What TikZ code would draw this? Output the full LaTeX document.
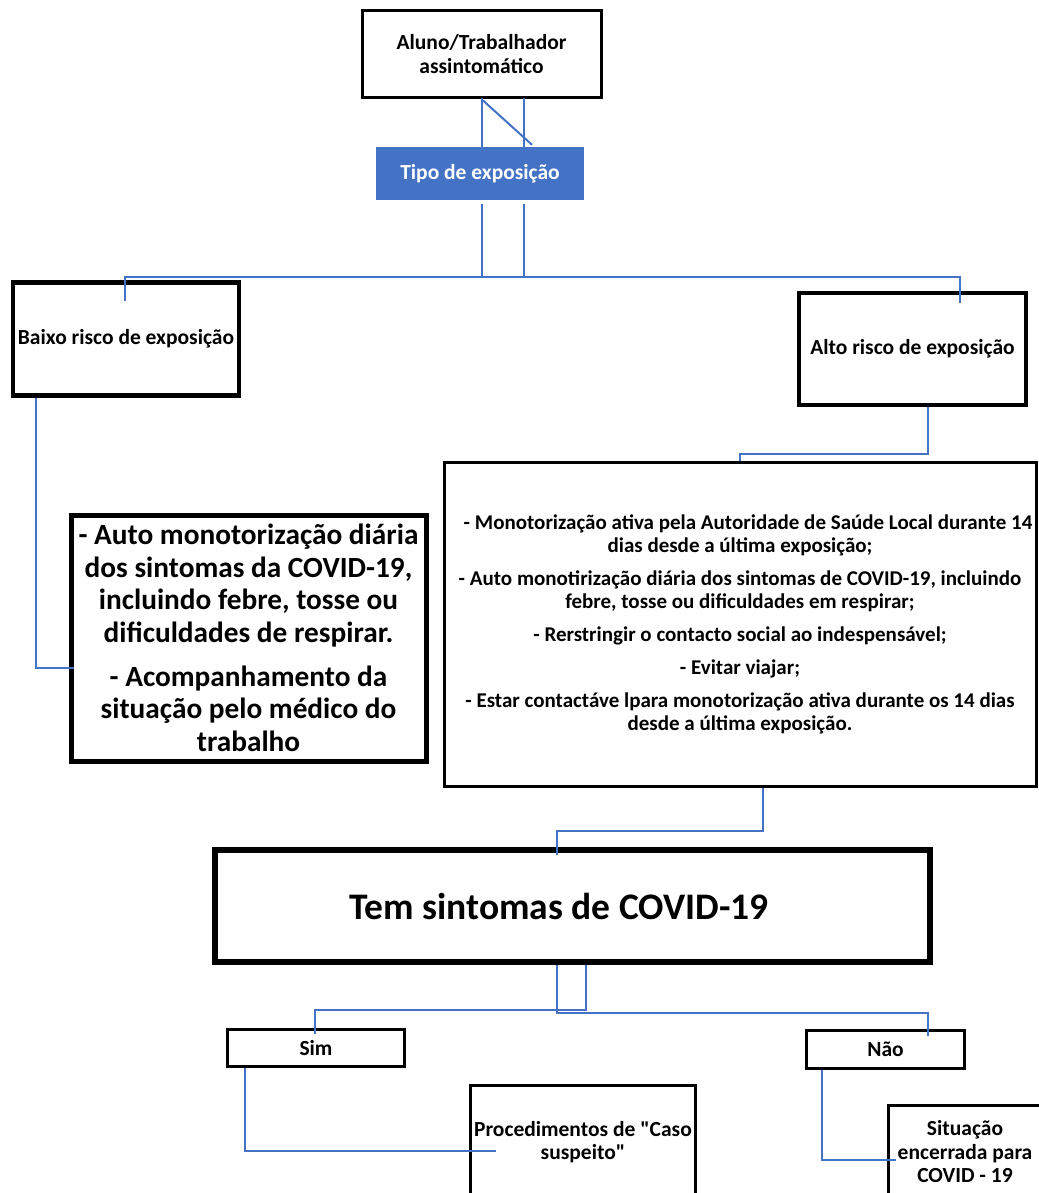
\documentclass[tikz,border=0pt]{standalone}
\usepackage{fontspec}
\setmainfont{Carlito}
\definecolor{conblue}{HTML}{4472C4}
\begin{document}
\begin{tikzpicture}[x=1pt,y=-1pt,
  box/.style={draw=black,fill=white,rectangle,inner sep=0pt,align=center,font=\bfseries\fontsize{21.5}{24}\selectfont},
  conn/.style={draw=conblue,line width=2pt}]
\useasboundingbox (0,0) rectangle (1038,1193);
% boxes
\node[box,line width=3pt,minimum width=239pt,minimum height=87pt] (aluno) at (481.5,54.5) {Aluno/Trabalhador\\assintomático};
\node[box,draw=none,fill=conblue,text=white,minimum width=208pt,minimum height=53pt] (tipo) at (480,173.5) {Tipo de exposição};
\node[box,line width=4.5pt,minimum width=226pt,minimum height=113pt] (baixo) at (126,339) {Baixo risco de exposição};
\node[box,line width=3.5pt,minimum width=227pt,minimum height=112pt] (alto) at (912.5,349) {Alto risco de exposição};
\node[box,line width=5pt,minimum width=355pt,minimum height=246pt,font=\bfseries\fontsize{29.3}{32.5}\selectfont] (auto) at (248.5,638)
  {- Auto monotorização diária\\dos sintomas da COVID-19,\\incluindo febre, tosse ou\\dificuldades de respirar.\\[11.5pt]- Acompanhamento da\\situação pelo médico do\\trabalho};
\node[box,line width=3pt,minimum width=592pt,minimum height=324pt,font=\bfseries\fontsize{21}{23}\selectfont] (acts) at (740,624)
  {\hspace*{16pt}- Monotorização ativa pela Autoridade de Saúde Local durante 14\\dias desde a última exposição;\\[10pt]- Auto monotirização diária dos sintomas de COVID-19, incluindo\\febre, tosse ou dificuldades em respirar;\\[10pt]- Rerstringir o contacto social ao indespensável;\\[10pt]- Evitar viajar;\\[10pt]- Estar contactáve lpara monotorização ativa durante os 14 dias\\desde a última exposição.};
\node[box,line width=6pt,minimum width=715pt,minimum height=112pt,font=\bfseries\fontsize{37.5}{42}\selectfont] (tem) at (572,906) {\hspace*{-26pt}Tem sintomas de COVID-19};
\node[box,line width=3pt,minimum width=177pt,minimum height=37pt] (sim) at (316,1048) {Sim};
\node[box,line width=3pt,minimum width=158pt,minimum height=38pt] (nao) at (885.5,1049.5) {Não};
\node[box,line width=3pt,minimum width=225pt,minimum height=113pt,font=\bfseries\fontsize{21.5}{23}\selectfont] (proc) at (583,1142) {Procedimentos de \textquotedbl Caso\\suspeito\textquotedbl};
\node[box,line width=3pt,minimum width=153pt,minimum height=94pt,font=\bfseries\fontsize{21.5}{23.5}\selectfont] (sit) at (965,1152) {Situação\\encerrada para\\COVID - 19};
% connectors
\coordinate (h1) at (503,277);
\draw[conn] ([xshift=0.5pt,yshift=1.5pt]aluno.south) -- ([xshift=0.5pt]aluno.south |- tipo.north);
\draw[conn] ([xshift=42.5pt,yshift=1.5pt]aluno.south) -- ([xshift=42.5pt]aluno.south |- tipo.north);
\draw[conn] ([xshift=1.5pt,yshift=-1pt]aluno.south) -- ([xshift=52pt,yshift=2pt]tipo.north);
\draw[conn] ([xshift=2pt,yshift=-4pt]tipo.south) -- ([xshift=2pt]tipo.south |- h1);
\draw[conn] ([xshift=44pt,yshift=-4pt]tipo.south) -- ([xshift=44pt]tipo.south |- h1);
\draw[conn] ([xshift=-1pt,yshift=-21pt]baixo.north) |- (h1) -| ([xshift=47.5pt,yshift=-12pt]alto.north);
\draw[conn] ([xshift=15.5pt]alto.south) -- ++(0,47) -| (acts.north);
\draw[conn] ([xshift=-90pt]baixo.south) |- ([xshift=5pt,yshift=-30pt]auto.west);
\draw[conn] ([xshift=23pt]acts.south) -- ++(0,43) -| ([xshift=-15pt,yshift=-8pt]tem.north);
\draw[conn] ([xshift=-15pt]tem.south) -- ++(0,48) -| ([xshift=42.5pt,yshift=-7pt]nao.north);
\draw[conn] ([xshift=14pt]tem.south) -- ++(0,45) -| ([xshift=-1pt,yshift=-6pt]sim.north);
\draw[conn] ([xshift=-71pt]sim.south) |- ([xshift=27pt,yshift=-8.5pt]proc.west);
\draw[conn] ([xshift=-63.5pt]nao.south) |- ([xshift=9pt,yshift=-8pt]sit.west);
\end{tikzpicture}
\end{document}
